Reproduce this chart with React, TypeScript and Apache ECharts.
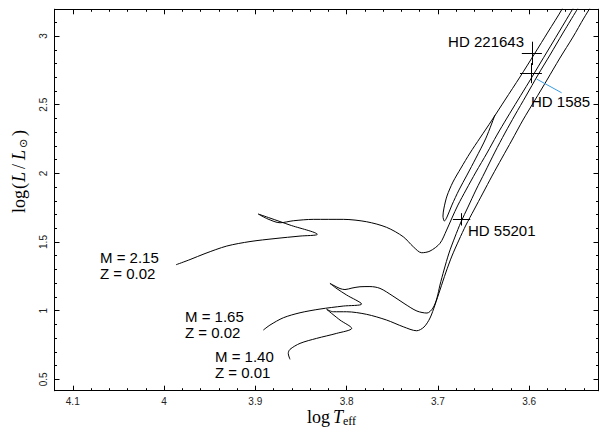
import React, { useEffect, useRef } from "react";
import * as echarts from "echarts";

// axis ranges (log Teff decreasing to the right)
const X_LEFT = 4.12;
const X_RIGHT = 3.524;
const Y_MIN = 0.417;
const Y_MAX = 3.195;

const xMajorTicks = [3.6, 3.7, 3.8, 3.9, 4.0, 4.1];
const yMajorTicks = [0.5, 1.0, 1.5, 2.0, 2.5, 3.0];
const xMinorTicks = Array.from({ length: 30 }, (_, i) => +((177 + i) * 0.02).toFixed(2));
const yMinorTicks = Array.from({ length: 27 }, (_, i) => +((5 + i) * 0.1).toFixed(1));

// M = 2.15, Z = 0.02 : main sequence, hook, subgiant crossing, RGB
const track215: number[][] = [
  [3.9869, 1.3343], [3.9715, 1.3722], [3.9551, 1.4159], [3.9313, 1.4705], [3.9058, 1.5033],
  [3.8784, 1.5251], [3.851, 1.5433], [3.8321, 1.5557], [3.862, 1.6235], [3.8839, 1.6744],
  [3.8967, 1.7036], [3.8861, 1.6672], [3.8729, 1.6402], [3.8584, 1.6548], [3.8365, 1.665],
  [3.8036, 1.665], [3.778, 1.6475], [3.7561, 1.6067], [3.7379, 1.5382], [3.7269, 1.4654],
  [3.7177, 1.4217], [3.7086, 1.4341], [3.6977, 1.4902], [3.6904, 1.587], [3.6846, 1.6744],
  [3.678, 1.7691], [3.6692, 1.8784], [3.6583, 2.0095], [3.6462, 2.1479], [3.6353, 2.279],
  [3.6243, 2.4028], [3.6123, 2.5339], [3.6002, 2.665], [3.5871, 2.8106], [3.5739, 2.9563],
  [3.5608, 3.102], [3.5465, 3.2622],
];
// M = 2.15 : descent to the clump and the narrow loop
const track215Loop: number[][] = [
  [3.5597, 3.2622], [3.5641, 3.1945], [3.5794, 3.0291], [3.5936, 2.8762], [3.6101, 2.7014],
  [3.6265, 2.5339], [3.6407, 2.3882], [3.6539, 2.2571], [3.6648, 2.1479], [3.6747, 2.0386],
  [3.6835, 1.9366], [3.69, 1.8347], [3.6933, 1.7473], [3.6944, 1.689], [3.6928, 1.6526],
  [3.69, 1.6817], [3.6846, 1.7691], [3.6769, 1.8784], [3.6681, 1.9876], [3.6583, 2.1114],
  [3.6473, 2.2571], [3.6375, 2.4246],
];
// M = 1.65, Z = 0.02
const track165: number[][] = [
  [3.8912, 0.8587], [3.8839, 0.8951], [3.8693, 0.9483], [3.851, 0.9847], [3.8291, 1.0117],
  [3.8036, 1.0335], [3.7835, 1.0481], [3.7999, 1.1136], [3.8116, 1.1646], [3.8182, 1.1988],
  [3.8138, 1.1828], [3.8072, 1.161], [3.8018, 1.1537], [3.7941, 1.1646], [3.7853, 1.1741],
  [3.7744, 1.1755], [3.7634, 1.1624], [3.7492, 1.1063], [3.736, 1.0481], [3.7229, 0.9971],
  [3.7119, 0.9825], [3.7054, 1.0189], [3.701, 1.0918], [3.6977, 1.1865], [3.6933, 1.2957],
  [3.6878, 1.4195], [3.6813, 1.5361], [3.6747, 1.6453], [3.667, 1.7546], [3.6583, 1.8784],
  [3.6484, 2.0095], [3.6375, 2.1551], [3.6265, 2.2935], [3.6155, 2.4246], [3.6035, 2.563],
  [3.5904, 2.716], [3.5772, 2.8616], [3.563, 3.0219], [3.5411, 3.2622],
];
// M = 1.40, Z = 0.01
const track140: number[][] = [
  [3.862, 0.6453], [3.8639, 0.689], [3.862, 0.7181], [3.851, 0.7618], [3.8328, 0.7982],
  [3.8108, 0.8347], [3.7944, 0.8711], [3.8072, 0.9315], [3.8218, 1.0095], [3.8146, 0.992],
  [3.7999, 0.992], [3.778, 0.9731], [3.7561, 0.9315], [3.7379, 0.8827], [3.7232, 0.8536],
  [3.7152, 0.8806], [3.7086, 0.9461], [3.7032, 1.0408], [3.6977, 1.15], [3.6911, 1.2811],
  [3.6846, 1.3977], [3.6769, 1.5142], [3.6692, 1.6235], [3.6605, 1.7327], [3.6506, 1.8565],
  [3.6407, 1.9803], [3.6298, 2.1114], [3.6188, 2.2425], [3.6068, 2.3882], [3.5936, 2.5339],
  [3.5805, 2.6795], [3.5663, 2.8398], [3.552, 2.9927], [3.54, 3.1311], [3.5279, 3.2622],
];

// observed stars
const starNames = ["HD 221643", "HD 1585", "HD 55201"];
const starLogT = [3.597, 3.598, 3.674];
const starLogL = [2.874, 2.73, 1.665];
const starErrT = [0.011, 0.012, 0.0095];
const starErrL = [0.085, 0.073, 0.045];

// leader line from HD 1585 to its label
const leaderLine: number[][] = [[3.5918, 2.687], [3.5644, 2.587]];

const SANS = '"Liberation Sans", Arial, Helvetica, sans-serif';
const SERIF = '"Liberation Serif", "Times New Roman", serif';

function xAxisCfg(position: string, ticks: number[], len: number, labels: boolean) {
  return {
    type: "value",
    position,
    min: X_RIGHT,
    max: X_LEFT,
    inverse: true,
    axisLine: { show: true, onZero: false, lineStyle: { color: "#000", width: 1 } },
    axisTick: { show: true, inside: true, length: len, customValues: ticks, lineStyle: { color: "#000", width: 1 } },
    axisLabel: {
      show: labels,
      customValues: xMajorTicks,
      fontFamily: SANS,
      fontSize: 10,
      color: "#222",
      margin: 6,
    },
    splitLine: { show: false },
  };
}

function yAxisCfg(position: string, ticks: number[], len: number, labels: boolean) {
  return {
    type: "value",
    position,
    min: Y_MIN,
    max: Y_MAX,
    axisLine: { show: true, onZero: false, lineStyle: { color: "#000", width: 1 } },
    axisTick: { show: true, inside: true, length: len, customValues: ticks, lineStyle: { color: "#000", width: 1 } },
    axisLabel: {
      show: labels,
      customValues: yMajorTicks,
      rotate: 90,
      fontFamily: SANS,
      fontSize: 10,
      color: "#222",
      margin: 6,
    },
    splitLine: { show: false },
  };
}

function trackSeries(data: number[][]) {
  return {
    type: "line",
    data,
    showSymbol: false,
    symbol: "none",
    smooth: 0.3,
    silent: true,
    lineStyle: { color: "#000", width: 1 },
    emphasis: { disabled: true },
    z: 2,
  };
}

function text(x: number, y: number, s: string, opts: any = {}) {
  return {
    type: "text",
    x,
    y,
    silent: true,
    style: {
      text: s,
      fill: "#000",
      fontFamily: SANS,
      fontSize: 15,
      align: "left",
      verticalAlign: "middle",
      ...opts,
    },
  };
}

export default function App() {
  const ref = useRef<HTMLDivElement>(null);
  useEffect(() => {
    document.body.style.margin = "0";
    if (!ref.current) return;
    const chart = echarts.init(ref.current, null, { renderer: "svg" });

    const errorBars: any[] = [];
    for (let i = 0; i < starNames.length; i++) {
      errorBars.push({ coords: [[starLogT[i] - starErrT[i], starLogL[i]], [starLogT[i] + starErrT[i], starLogL[i]]] });
      errorBars.push({ coords: [[starLogT[i], starLogL[i] - starErrL[i]], [starLogT[i], starLogL[i] + starErrL[i]]] });
    }

    const option: any = {
      animation: false,
      grid: { left: 54.5, right: 1.5, top: 9.3, bottom: 42.3, containLabel: false },
      xAxis: [
        xAxisCfg("bottom", xMajorTicks, 5, true),
        xAxisCfg("bottom", xMinorTicks, 2.5, false),
        xAxisCfg("top", xMajorTicks, 5, false),
        xAxisCfg("top", xMinorTicks, 2.5, false),
      ],
      yAxis: [
        yAxisCfg("left", yMajorTicks, 5, true),
        yAxisCfg("left", yMinorTicks, 2.5, false),
        yAxisCfg("right", yMajorTicks, 5, false),
        yAxisCfg("right", yMinorTicks, 2.5, false),
      ],
      series: [
        trackSeries(track215),
        trackSeries(track215Loop),
        trackSeries(track165),
        trackSeries(track140),
        {
          type: "lines",
          coordinateSystem: "cartesian2d",
          silent: true,
          lineStyle: { color: "#000", width: 1, opacity: 1 },
          data: errorBars,
          z: 3,
        },
        {
          type: "lines",
          coordinateSystem: "cartesian2d",
          silent: true,
          lineStyle: { color: "#3a9be0", width: 1, opacity: 1 },
          data: [{ coords: leaderLine }],
          z: 3,
        },
      ],
      graphic: [
        text(524, 41, starNames[0], { align: "right" }),
        text(531, 101, starNames[1]),
        text(468, 230, starNames[2]),
        text(100, 257, "M = 2.15"),
        text(100, 273, "Z = 0.02"),
        text(185, 316, "M = 1.65"),
        text(185, 332.5, "Z = 0.02"),
        text(215, 356, "M = 1.40"),
        text(215, 372, "Z = 0.01"),
        // x-axis title: log T_eff
        text(307, 416.5, "log", { fontFamily: SERIF, fontSize: 18 }),
        text(333, 416.5, "T", { fontFamily: SERIF, fontSize: 18, fontStyle: "italic" }),
        text(343, 421, "eff", { fontFamily: SERIF, fontSize: 12 }),
        // y-axis title: log(L/L_sun)
        {
          type: "group",
          x: 19,
          y: 213,
          rotation: Math.PI / 2,
          silent: true,
          children: [
            text(0, 0, "log", { fontFamily: SERIF, fontSize: 18 }),
            text(24, 0, "(", { fontFamily: SERIF, fontSize: 18 }),
            text(31, 0, "L", { fontFamily: SERIF, fontSize: 18, fontStyle: "italic" }),
            text(44, 0, "/", { fontFamily: SERIF, fontSize: 18 }),
            text(53, 0, "L", { fontFamily: SERIF, fontSize: 18, fontStyle: "italic" }),
            text(65, 4, "\u2299", { fontFamily: '"DejaVu Sans", sans-serif', fontSize: 11 }),
            text(77, 0, ")", { fontFamily: SERIF, fontSize: 18 }),
          ],
        },
      ],
    };
    chart.setOption(option);
    return () => chart.dispose();
  }, []);
  return <div ref={ref} style={{ width: 600, height: 433 }} />;
}
